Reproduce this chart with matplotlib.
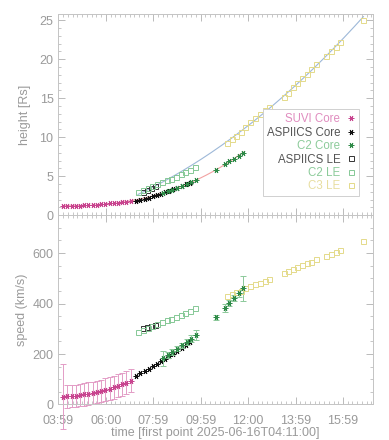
import matplotlib
matplotlib.use('Agg')
import matplotlib.pyplot as plt
from matplotlib.ticker import FixedLocator, MultipleLocator
import numpy as np

# time axis: hours since first point 2025-06-16T04:11:00
xticks = [-0.2, 1.8, 3.8, 5.8, 7.8, 9.8, 11.8]
xticklabels = ['03:59', '06:00', '07:59', '09:59', '12:00', '13:59', '15:59']

# SUVI core
suvi_t = [0.00, 0.18, 0.36, 0.53, 0.71, 0.89, 1.07, 1.25, 1.43, 1.60, 1.78, 1.96, 2.14, 2.32, 2.50, 2.67, 2.85]
suvi_h = [1.12, 1.14, 1.16, 1.19, 1.22, 1.25, 1.28, 1.32, 1.36, 1.40, 1.45, 1.50, 1.55, 1.61, 1.67, 1.74, 1.82]
suvi_v = [31, 32, 33, 35, 37, 40, 43, 46, 50, 54, 58, 63, 68, 74, 80, 87, 95]
suvi_ve = [130, 45, 44, 44, 44, 44, 45, 45, 45, 45, 45, 46, 46, 46, 46, 47, 47]

# ASPIICS core
asp_t = [3.09, 3.26, 3.44, 3.61, 3.78, 3.96, 4.13, 4.30, 4.48, 4.65, 4.82, 5.00, 5.17, 5.34]
asp_h = [1.85, 1.98, 2.12, 2.26, 2.41, 2.57, 2.74, 2.92, 3.10, 3.30, 3.50, 3.72, 3.94, 4.18]
asp_v = [114, 123, 132, 141, 151, 161, 171, 181, 191, 201, 212, 223, 235, 248]

# C2 core
c2c_t = [4.21, 4.41, 4.61, 4.81, 5.01, 5.21, 5.41, 5.61, 6.43, 6.82, 7.01, 7.21, 7.40, 7.60]
c2c_h = [2.85, 3.05, 3.28, 3.50, 3.73, 3.98, 4.25, 4.55, 5.85, 6.55, 6.90, 7.25, 7.60, 8.00]
c2c_v = [183, 196, 208, 221, 234, 247, 260, 275, 345, 383, 402, 420, 440, 460]
c2c_ve = [30, 12, 10, 10, 10, 12, 14, 21, 10, 15, 12, 12, 14, 50]

# ASPIICS leading edge
aspl_t = [3.35, 3.52, 3.69, 3.86]
aspl_h = [3.00, 3.25, 3.50, 3.75]
aspl_v = [302, 305, 309, 313]

# C2 leading edge
c2l_t = [3.16, 3.36, 3.56, 3.76, 3.96, 4.16, 4.36, 4.56, 4.76, 4.96, 5.16, 5.36, 5.56]
c2l_h = [2.95, 3.20, 3.45, 3.70, 3.95, 4.20, 4.45, 4.70, 4.95, 5.25, 5.55, 5.85, 6.20]
c2l_v = [288, 295, 303, 310, 318, 325, 333, 340, 348, 356, 364, 372, 382]

# C3 leading edge
c3_t = [6.92, 7.11, 7.30, 7.48, 7.67, 7.90, 8.09, 8.30, 8.50, 8.69, 9.30, 9.49, 9.70, 9.88,
        10.09, 10.28, 10.47, 10.68, 11.08, 11.29, 11.50, 11.68, 12.66]
c3_h = [9.3, 9.8, 10.2, 10.7, 11.3, 11.9, 12.5, 13.0, 13.5, 13.9, 15.2, 15.7, 16.4, 16.9,
        17.6, 18.1, 18.7, 19.4, 20.4, 21.0, 21.6, 22.2, 25.1]
c3_v = [429, 437, 444, 450, 461, 469, 477, 483, 490, 499, 521, 528, 536, 543,
        552, 559, 565, 575, 589, 598, 605, 611, 648]

col_suvi = '#c8448f'
col_asp = '#111111'
col_c2c = '#2f8a48'
col_c2l = '#86c896'
col_c3 = '#e4da8a'
col_core_fit = '#f2a2a2'
col_le_fit = '#9db8d8'
grey_txt = '#9a9a9a'
grey_ax = '#c4c4c4'

plt.rcParams['font.family'] = ['Liberation Sans', 'DejaVu Sans']
plt.rcParams['font.size'] = 9

fig = plt.figure(figsize=(3.89, 4.40), dpi=100)
ax1 = fig.add_axes([0.150, 0.511, 0.808, 0.457])
ax2 = fig.add_axes([0.150, 0.0807, 0.808, 0.4303])

ast = (6, 2, 90)
ms = 4
sq = 3.6

# fits from the data
core_t = np.array(suvi_t + asp_t + c2c_t)
core_h = np.array(suvi_h + asp_h + c2c_h)
pc = np.polyfit(core_t, core_h, 3)
tt = np.linspace(core_t.min(), core_t.max(), 200)
ax1.plot(tt, np.polyval(pc, tt), color=col_core_fit, lw=0.8, zorder=1)

le_t = np.array(aspl_t + c2l_t + c3_t)
le_h = np.array(aspl_h + c2l_h + c3_h)
pl = np.polyfit(le_t, le_h, 2)
tt = np.linspace(le_t.min(), le_t.max(), 200)
ax1.plot(tt, np.polyval(pl, tt), color=col_le_fit, lw=0.8, zorder=1)

ax1.plot(suvi_t, suvi_h, ls='none', marker=ast, ms=ms, mew=0.7, color=col_suvi, label='SUVI Core')
ax1.plot(asp_t, asp_h, ls='none', marker=ast, ms=ms, mew=0.7, color=col_asp, label='ASPIICS Core')
ax1.plot(c2c_t, c2c_h, ls='none', marker=ast, ms=ms, mew=0.7, color=col_c2c, label='C2 Core')
ax1.plot(aspl_t, aspl_h, ls='none', marker='s', ms=sq, mew=0.7, mfc='none', color='#333333', label='ASPIICS LE')
ax1.plot(c2l_t, c2l_h, ls='none', marker='s', ms=sq, mew=0.7, mfc='none', color=col_c2l, label='C2 LE')
ax1.plot(c3_t, c3_h, ls='none', marker='s', ms=sq, mew=0.7, mfc='none', color=col_c3, label='C3 LE')

ax2.errorbar(suvi_t, suvi_v, yerr=suvi_ve, ls='none', marker=ast, ms=ms, mew=0.7, color=col_suvi,
             ecolor='#e39cc6', elinewidth=0.7, capsize=2, capthick=0.7, clip_on=False)
ax2.plot(asp_t, asp_v, ls='none', marker=ast, ms=ms, mew=0.7, color=col_asp)
ax2.errorbar(c2c_t, c2c_v, yerr=c2c_ve, ls='none', marker=ast, ms=ms, mew=0.7, color=col_c2c,
             ecolor='#8cc99a', elinewidth=0.7, capsize=2, capthick=0.7)
ax2.plot(aspl_t, aspl_v, ls='none', marker='s', ms=sq, mew=0.7, mfc='none', color='#333333')
ax2.plot(c2l_t, c2l_v, ls='none', marker='s', ms=sq, mew=0.7, mfc='none', color=col_c2l)
ax2.plot(c3_t, c3_v, ls='none', marker='s', ms=sq, mew=0.7, mfc='none', color=col_c3)

for ax in (ax1, ax2):
    ax.set_xlim(-0.2, 13.05)
    ax.xaxis.set_major_locator(FixedLocator(xticks))
    ax.xaxis.set_minor_locator(MultipleLocator(0.2))
    ax.tick_params(which='both', direction='in', top=True, right=True,
                   color='#b0b0b0', labelcolor=grey_txt, labelsize=9)
    ax.tick_params(which='major', length=5, width=0.6)
    ax.tick_params(which='minor', length=2.5, width=0.5)
    for s in ax.spines.values():
        s.set_color(grey_ax)
        s.set_linewidth(0.7)

ax1.set_ylim(0, 25.8)
ax1.yaxis.set_major_locator(MultipleLocator(5))
ax1.yaxis.set_minor_locator(MultipleLocator(1))
ax1.set_xticklabels([])
ax1.set_ylabel('height [Rs]', color=grey_txt, labelpad=6)

ax2.set_ylim(0, 750)
ax2.yaxis.set_major_locator(MultipleLocator(200))
ax2.yaxis.set_minor_locator(MultipleLocator(50))
ax2.set_xticklabels(xticklabels)
ax2.tick_params(axis='x', which='major', pad=7.5)
ax2.set_ylabel('speed (km/s)', color=grey_txt, labelpad=3)
ax2.set_xlabel('time [first point 2025-06-16T04:11:00]', color=grey_txt, labelpad=0)

# raise the "0" labels off the lower axis, as in the original
for ax in (ax1, ax2):
    ax.yaxis.get_major_ticks()[0].label1.set_va('bottom')

leg = ax1.legend(loc='lower right', bbox_to_anchor=(0.976, 0.065), markerfirst=False,
                 fancybox=False, edgecolor='#d0d0d0', framealpha=1, fontsize=8.3,
                 handlelength=0.8, handletextpad=0.5, labelspacing=0.12, borderpad=0.35,
                 labelcolor=['#e08cbf', '#555555', '#8ccb9a', '#555555', '#8ccb9a', '#e8dea0'])
leg.get_frame().set_linewidth(0.7)

fig.savefig('out.png', dpi=100)
